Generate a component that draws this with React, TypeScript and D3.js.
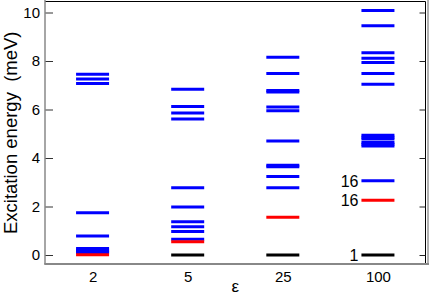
import React, { useEffect, useRef } from 'react';
import * as d3 from 'd3';

// epsilon values on the x axis
const categories = ['2', '5', '25', '100'];

// energy levels (meV), per epsilon
const blueLevels: number[][] = [
  [7.45, 7.26, 7.07, 1.74, 0.78, 0.27, 0.21, 0.15, 0.1],
  [6.83, 6.12, 5.86, 5.61, 2.77, 1.98, 1.37, 1.17, 0.97, 0.65],
  [8.15, 7.48, 6.78, 6.72, 6.1, 5.95, 4.7, 3.7, 3.64, 3.24, 2.77],
  [10.08, 9.45, 8.34, 8.11, 7.94, 7.48, 7.04, 4.94, 4.86, 4.78, 4.64, 4.57, 4.5, 3.06],
];
const redLevels: number[][] = [[0.01], [0.55], [1.56], [2.26]];
const blackLevels: number[][] = [[], [0], [0], [0]];

// degeneracy labels next to the epsilon = 100 column
const annotations = [
  { value: 3.06, text: '16' },
  { value: 2.26, text: '16' },
  { value: 0, text: '1' },
];

const yTicks = [0, 2, 4, 6, 8, 10];

const FONT = '"Liberation Sans", Arial, Helvetica, sans-serif';

export default function App() {
  const ref = useRef<SVGSVGElement>(null);

  useEffect(() => {
    const width = 429;
    const height = 296;
    const left = 45;
    const right = 425.5;
    const top = 1.5;
    const bottom = 264;

    const svg = d3.select(ref.current);
    svg.selectAll('*').remove();

    const xScale = d3
      .scalePoint<string>()
      .domain(categories)
      .range([left, right])
      .padding(0.5);

    const yScale = d3.scaleLinear().domain([0, 10]).range([255, 12.5]);

    const halfBar = 16.5;

    // frame
    svg
      .append('line')
      .attr('x1', left)
      .attr('x2', right)
      .attr('y1', top)
      .attr('y2', top)
      .attr('stroke', '#000')
      .attr('stroke-width', 1);
    svg
      .append('line')
      .attr('x1', right)
      .attr('x2', right)
      .attr('y1', top)
      .attr('y2', bottom)
      .attr('stroke', '#000')
      .attr('stroke-width', 1);
    svg
      .append('line')
      .attr('x1', 428)
      .attr('x2', 428)
      .attr('y1', 0)
      .attr('y2', bottom)
      .attr('stroke', '#999')
      .attr('stroke-width', 1.5);

    const yAxis = d3
      .axisLeft(yScale)
      .tickValues(yTicks)
      .tickSize(-8)
      .tickPadding(5)
      .tickSizeOuter(0);

    const yAxisG = svg
      .append('g')
      .attr('transform', `translate(${left}, 0)`)
      .call(yAxis);
    yAxisG.select('.domain').remove();
    yAxisG.selectAll('line').attr('stroke', '#333');
    yAxisG
      .selectAll('text')
      .attr('font-family', FONT)
      .attr('font-size', 15)
      .attr('fill', '#000');

    const rightAxis = d3
      .axisRight(yScale)
      .tickValues(yTicks)
      .tickSize(-6)
      .tickFormat(() => '')
      .tickSizeOuter(0);
    const rightG = svg
      .append('g')
      .attr('transform', `translate(${right}, 0)`)
      .call(rightAxis);
    rightG.select('.domain').remove();
    rightG.selectAll('line').attr('stroke', '#222');

    svg
      .append('line')
      .attr('x1', left)
      .attr('x2', left)
      .attr('y1', 0)
      .attr('y2', bottom)
      .attr('stroke', '#888')
      .attr('stroke-width', 1.5);
    svg
      .append('line')
      .attr('x1', left - 0.75)
      .attr('x2', width)
      .attr('y1', bottom)
      .attr('y2', bottom)
      .attr('stroke', '#888')
      .attr('stroke-width', 2);

    const xAxis = d3.axisBottom(xScale).tickSize(0).tickPadding(7);
    const xAxisG = svg
      .append('g')
      .attr('transform', `translate(0, ${bottom})`)
      .call(xAxis);
    xAxisG.select('.domain').remove();
    xAxisG
      .selectAll('text')
      .attr('font-family', FONT)
      .attr('font-size', 15)
      .attr('fill', '#000');

    // levels: black first, then blue, red on top
    const layers: [number[][], string][] = [
      [blackLevels, '#000000'],
      [blueLevels, '#0000ff'],
      [redLevels, '#ff0000'],
    ];

    for (const [levels, color] of layers) {
      categories.forEach((c, i) => {
        const cx = xScale(c) as number;
        svg
          .append('g')
          .selectAll('line')
          .data(levels[i])
          .enter()
          .append('line')
          .attr('x1', cx - halfBar)
          .attr('x2', cx + halfBar)
          .attr('y1', (d) => yScale(d))
          .attr('y2', (d) => yScale(d))
          .attr('stroke', color)
          .attr('stroke-width', 3);
      });
    }

    const lastX = xScale(categories[3]) as number;
    svg
      .append('g')
      .selectAll('text')
      .data(annotations)
      .enter()
      .append('text')
      .attr('x', lastX - halfBar - 3)
      .attr('y', (d) => yScale(d.value))
      .attr('dy', '0.36em')
      .attr('text-anchor', 'end')
      .attr('font-family', FONT)
      .attr('font-size', 16)
      .text((d) => d.text);

    svg
      .append('text')
      .attr('transform', `translate(17, ${(top + bottom) / 2}) rotate(-90)`)
      .attr('text-anchor', 'middle')
      .attr('font-family', FONT)
      .attr('font-size', 18.5)
      .style('white-space', 'pre')
      .text('Excitation energy  (meV)');

    svg
      .append('text')
      .attr('x', (left + right) / 2)
      .attr('y', 291.5)
      .attr('text-anchor', 'middle')
      .attr('font-family', FONT)
      .attr('font-size', 17)
      .text('ε');

    svg.attr('width', width).attr('height', height);
  }, []);

  return (
    <svg
      ref={ref}
      width={429}
      height={296}
      style={{ position: 'absolute', left: 0, top: 0, background: '#fff' }}
    />
  );
}
